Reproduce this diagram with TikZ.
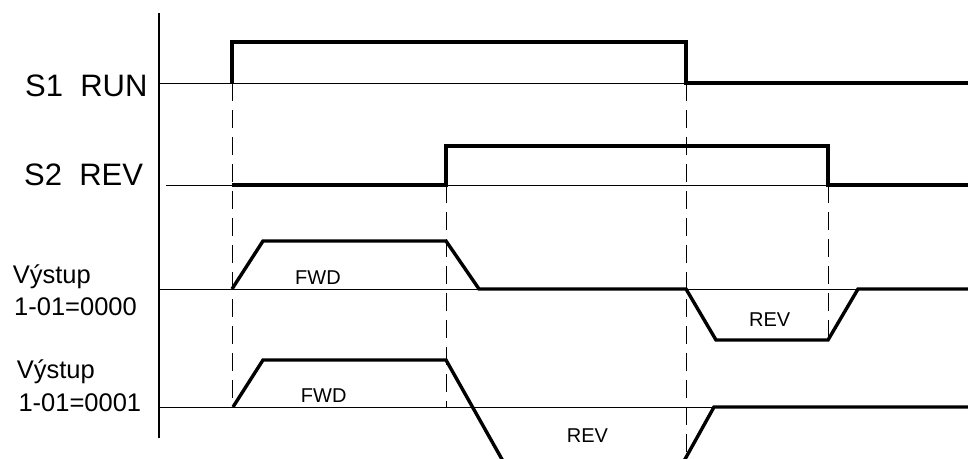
\documentclass[tikz,border=0pt]{standalone}
\usepackage{fontspec}
\setmainfont{Liberation Sans}
\begin{document}
\begin{tikzpicture}[x=1pt,y=-1pt,
  thinline/.style={line width=1pt},
  axisline/.style={line width=1.2pt},
  signal/.style={line width=3.4pt,line join=miter},
  guide/.style={line width=1pt,dash pattern=on 18pt off 9pt},
  bigtxt/.style={inner sep=0pt,anchor=base west,font=\fontsize{31}{31}\selectfont},
  midtxt/.style={inner sep=0pt,anchor=base west,font=\fontsize{25.5}{25.5}\selectfont},
  smalltxt/.style={inner sep=0pt,anchor=base west,font=\fontsize{20}{20}\selectfont}]
\useasboundingbox (0,0) rectangle (968,458);
\clip (0,0) rectangle (968,458);
% axis and baselines
\coordinate (axT) at (159,13); \coordinate (axB) at (159,438);
\draw[axisline] (axT) -- (axB);
\coordinate (b1L) at (159,83);  \coordinate (b1R) at (968,83);
\coordinate (b2L) at (166,185); \coordinate (b2R) at (968,185);
\coordinate (b3L) at (159,289); \coordinate (b3R) at (968,289);
\coordinate (b4L) at (159,407); \coordinate (b4R) at (968,407);
\draw[thinline] (b1L) -- (b1R);
\draw[thinline] (b2L) -- (b2R);
\draw[thinline] (b3L) -- (b3R);
\draw[thinline] (b4L) -- (b4R);
% dashed guides
\coordinate (g1T) at (232,83);  \coordinate (g1B) at (232,407);
\coordinate (g2T) at (446,185); \coordinate (g2B) at (446,407);
\coordinate (g3T) at (686,83);  \coordinate (g3B) at (686,458);
\coordinate (g4T) at (828,185); \coordinate (g4B) at (828,340);
\draw[guide] (g1T) -- (g1B);
\draw[guide] (g2T) -- (g2B);
\draw[guide] (g3T) -- (g3B);
\draw[guide] (g4T) -- (g4B);
% signals
\draw[signal] (232,83) -- (232,42) -- (686,42) -- (686,83) -- (968,83);
\draw[signal] (232,185) -- (446,185) -- (446,146) -- (828,146) -- (828,185) -- (968,185);
\draw[signal] (232,289) -- (263,241) -- (446,241) -- (479,289) -- (686,289)
  -- (716,340) -- (828,340) -- (858,289) -- (968,289);
\draw[signal] (233,407) -- (263,360) -- (446,360) -- (508,470);
\draw[signal] (679,470) -- (714,407) -- (968,407);
% labels
\node[bigtxt] (s1) at (25,96.5) {S1\ \ RUN};
\node[bigtxt] (s2) at (24,185) {S2\ \ REV};
\node[midtxt] (o1a) at (12.7,283) {Výstup};
\node[midtxt] (o1b) at (14,315.7) {1-01=0000};
\node[midtxt] (o2a) at (16.7,378) {Výstup};
\node[midtxt] (o2b) at (18.3,411.7) {1-01=0001};
\node[smalltxt] (f1) at (295,284.3) {FWD};
\node[smalltxt] (f2) at (300.7,402.3) {FWD};
\node[smalltxt] (r1) at (749,326.7) {REV};
\node[smalltxt] (r2) at (566.7,442.3) {REV};
\end{tikzpicture}
\end{document}
